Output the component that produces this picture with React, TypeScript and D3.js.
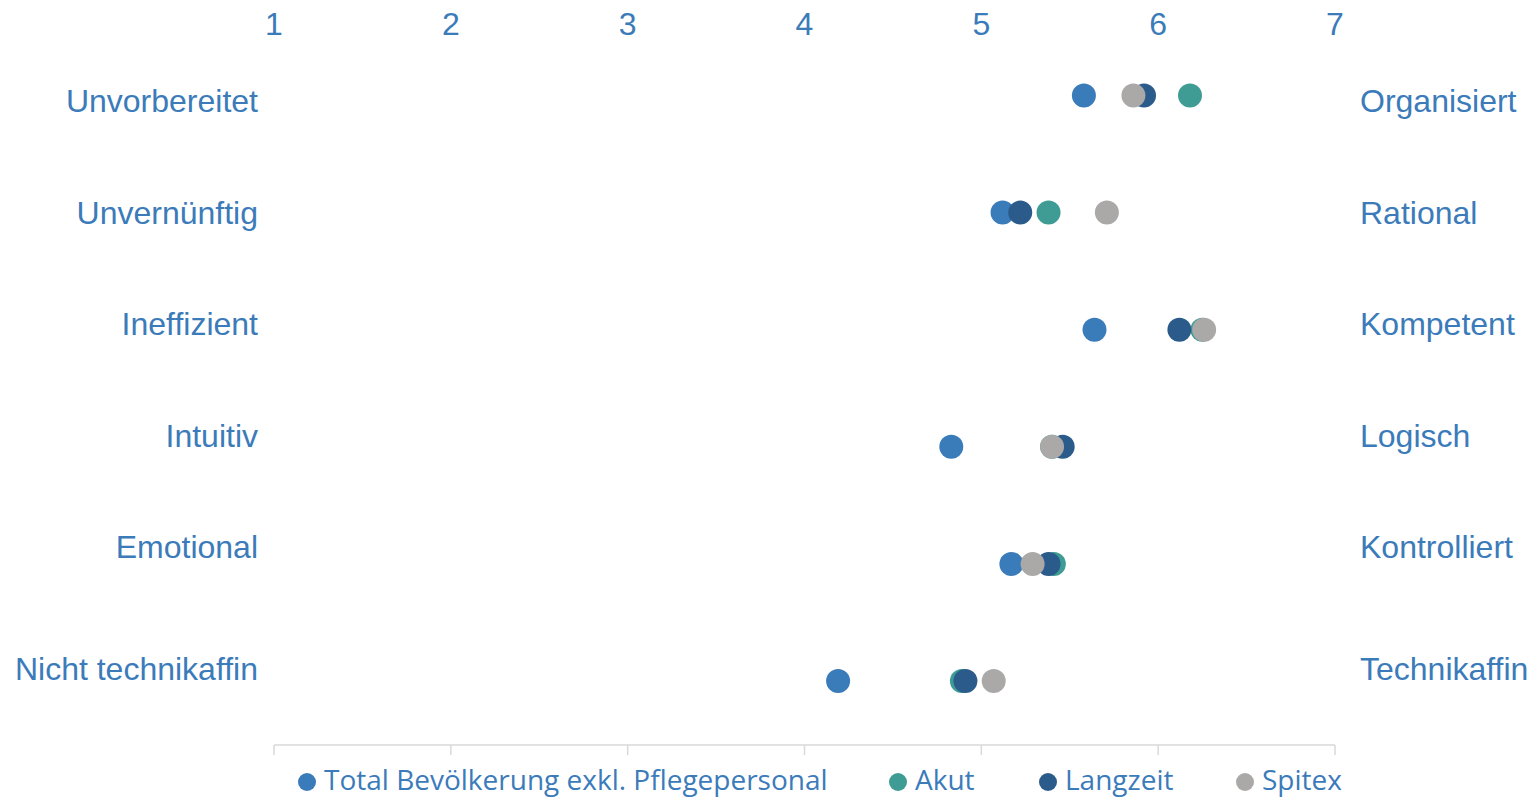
import React, { useEffect, useRef } from "react";
import * as d3 from "d3";

const leftLabels = ["Unvorbereitet", "Unvernünftig", "Ineffizient", "Intuitiv", "Emotional", "Nicht technikaffin"];
const rightLabels = ["Organisiert", "Rational", "Kompetent", "Logisch", "Kontrolliert", "Technikaffin"];
const xTicks = [1, 2, 3, 4, 5, 6, 7];

const seriesNames = ["Total Bevölkerung exkl. Pflegepersonal", "Akut", "Langzeit", "Spitex"];
const totalValues = [5.58, 5.12, 5.64, 4.83, 5.17, 4.19];
const akutValues = [6.18, 5.38, 6.25, 5.4, 5.41, 4.89];
const langzeitValues = [5.92, 5.22, 6.12, 5.46, 5.38, 4.91];
const spitexValues = [5.86, 5.71, 6.26, 5.4, 5.29, 5.07];
const seriesColors = ["#3A7BBA", "#3E9C94", "#2B5B8A", "#ABA8A8"];

const W = 1532;
const H = 798;
const TEXT = "#3B7BBA";

export default function App() {
  const ref = useRef<SVGSVGElement | null>(null);

  useEffect(() => {
    const svg = d3.select(ref.current);
    svg.selectAll("*").remove();

    const x = d3.scaleLinear().domain([1, 7]).range([274, 1335]);
    const y = d3.scaleLinear().domain([0, 5]).range([95.5, 681]);
    const labelY = d3.scaleLinear().domain([0, 4, 5]).range([112, 558, 680]);

    // top tick labels
    svg
      .append("g")
      .selectAll("text")
      .data(xTicks)
      .join("text")
      .attr("x", (d) => x(d))
      .attr("y", 35)
      .attr("text-anchor", "middle")
      .attr("font-family", "Liberation Sans, Arial, sans-serif")
      .attr("font-size", 32)
      .attr("fill", TEXT)
      .text((d) => String(d));

    // bottom axis
    const axisG = svg.append("g");
    axisG
      .append("line")
      .attr("x1", x(1))
      .attr("x2", x(7))
      .attr("y1", 745)
      .attr("y2", 745)
      .attr("stroke", "#D9D9D9")
      .attr("stroke-width", 1.5);
    axisG
      .selectAll("line.tick")
      .data(xTicks)
      .join("line")
      .attr("class", "tick")
      .attr("x1", (d) => x(d))
      .attr("x2", (d) => x(d))
      .attr("y1", 745)
      .attr("y2", 755)
      .attr("stroke", "#D9D9D9")
      .attr("stroke-width", 1.5);

    // left/right labels
    svg
      .append("g")
      .selectAll("text")
      .data(leftLabels)
      .join("text")
      .attr("x", 258)
      .attr("y", (_d, i) => labelY(i))
      .attr("text-anchor", "end")
      .attr("font-family", "Liberation Sans, Arial, sans-serif")
      .attr("font-size", 32)
      .attr("fill", TEXT)
      .text((d) => d);
    svg
      .append("g")
      .selectAll("text")
      .data(rightLabels)
      .join("text")
      .attr("x", 1360)
      .attr("y", (_d, i) => labelY(i))
      .attr("text-anchor", "start")
      .attr("font-family", "Liberation Sans, Arial, sans-serif")
      .attr("font-size", 32)
      .attr("fill", TEXT)
      .text((d) => d);

    // dots
    const allSeries = [totalValues, akutValues, langzeitValues, spitexValues];
    allSeries.forEach((vals, si) => {
      svg
        .append("g")
        .selectAll("circle")
        .data(vals)
        .join("circle")
        .attr("cx", (d) => x(d))
        .attr("cy", (_d, i) => y(i))
        .attr("r", 12)
        .attr("fill", seriesColors[si]);
    });

    // legend
    const legendX = [307, 898, 1048, 1245];
    const lg = svg.append("g");
    seriesNames.forEach((name, i) => {
      lg.append("circle")
        .attr("cx", legendX[i])
        .attr("cy", 782)
        .attr("r", 9)
        .attr("fill", seriesColors[i]);
      lg.append("text")
        .attr("x", legendX[i] + 17)
        .attr("y", 790)
        .attr("font-family", "Open Sans, sans-serif")
        .attr("font-size", 28)
        .attr("fill", TEXT)
        .text(name);
    });
  }, []);

  return (
    <svg
      ref={ref}
      width={W}
      height={H}
      style={{ position: "absolute", left: 0, top: 0, background: "#fff" }}
    />
  );
}
